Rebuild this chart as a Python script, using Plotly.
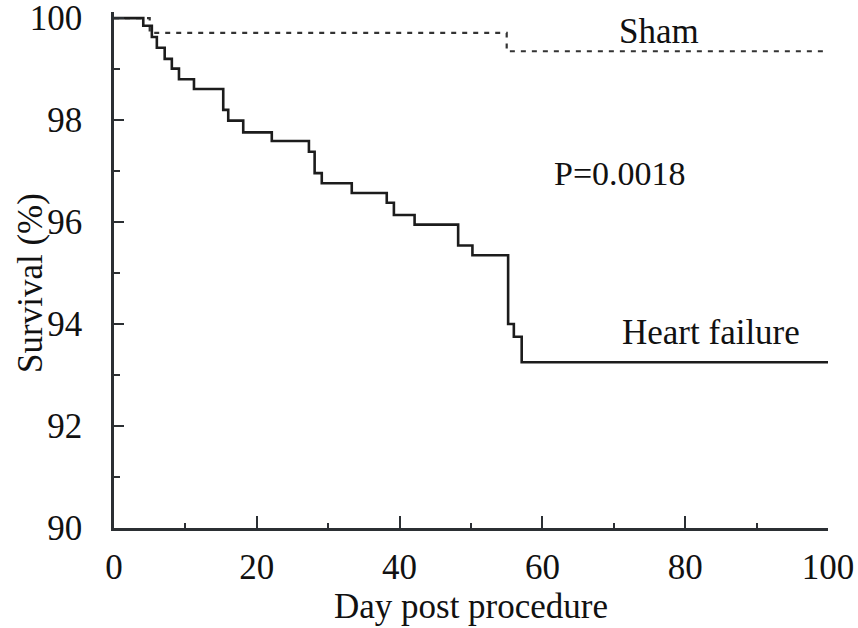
import plotly.graph_objects as go

# Kaplan-Meier survival data
hf_days = [0, 4.1, 5.3, 6.0, 7.1, 8.1, 9.1, 11.2, 15.3, 16.0, 18.1, 22.1, 27.3, 28.1,
           29.1, 33.3, 38.2, 39.2, 42.1, 48.2, 50.2, 55.2, 56.0, 57.1, 100]
hf_surv = [100, 99.85, 99.63, 99.42, 99.20, 99.01, 98.80, 98.61, 98.20, 97.99, 97.76,
           97.59, 97.38, 96.96, 96.76, 96.57, 96.38, 96.14, 95.95, 95.54, 95.35, 94.00,
           93.75, 93.25, 93.25]

sham_days = [0, 5.0, 55.0, 100]
sham_surv = [100, 99.71, 99.35, 99.35]

x_ticks = [0, 20, 40, 60, 80, 100]
y_ticks = [90, 92, 94, 96, 98, 100]

FONT = "Liberation Serif, Times New Roman, serif"
TXT = "#111111"
AX = "#2b2f33"

fig = go.Figure()
fig.add_trace(go.Scatter(x=sham_days, y=sham_surv, mode="lines", line_shape="hv",
                         line=dict(color="#333333", width=2.2, dash="5px,6px"),
                         name="Sham", showlegend=False))
fig.add_trace(go.Scatter(x=hf_days, y=hf_surv, mode="lines", line_shape="hv",
                         line=dict(color="#1c1c1c", width=2.6),
                         name="Heart failure", showlegend=False))

fig.add_annotation(x=76.3, y=99.73, text="Sham", showarrow=False,
                   font=dict(family=FONT, size=35, color=TXT))
fig.add_annotation(x=70.8, y=96.95, text="P=0.0018", showarrow=False,
                   font=dict(family=FONT, size=34, color=TXT))
fig.add_annotation(x=83.6, y=93.83, text="Heart failure", showarrow=False,
                   font=dict(family=FONT, size=35, color=TXT))
# y-axis title
fig.add_annotation(xref="paper", yref="paper", x=0, y=0.475, xshift=-83,
                   xanchor="center", yanchor="middle",
                   text="Survival (%)", textangle=-90, showarrow=False,
                   font=dict(family=FONT, size=35, color=TXT))

fig.update_layout(
    width=858, height=628,
    margin=dict(l=114, r=30, t=12, b=100, autoexpand=False),
    paper_bgcolor="white", plot_bgcolor="white",
    font=dict(family=FONT, size=35, color=TXT),
)
fig.update_xaxes(
    range=[0, 100], tickvals=x_ticks, ticktext=[str(v) for v in x_ticks],
    showline=True, linecolor=AX, linewidth=2.5, showgrid=False, zeroline=False,
    ticks="inside", ticklen=12, tickwidth=2, tickcolor=AX,
    minor=dict(dtick=10, tick0=0, ticks="inside", ticklen=5, tickwidth=2, tickcolor=AX),
    ticklabelstandoff=6, ticklabeloverflow="allow",
    title=dict(text="Day post procedure", font=dict(family=FONT, size=35, color=TXT), standoff=0),
    automargin=False,
)
fig.update_yaxes(
    range=[90, 100.12], tickvals=y_ticks, ticktext=[str(v) for v in y_ticks],
    showline=True, linecolor=AX, linewidth=2.5, showgrid=False, zeroline=False,
    ticks="inside", ticklen=10, tickwidth=2, tickcolor=AX,
    minor=dict(dtick=1, tick0=90, ticks="inside", ticklen=6, tickwidth=2, tickcolor=AX),
    ticklabelstandoff=22, ticklabeloverflow="allow",
    automargin=False,
)

fig.write_html("out.html")
